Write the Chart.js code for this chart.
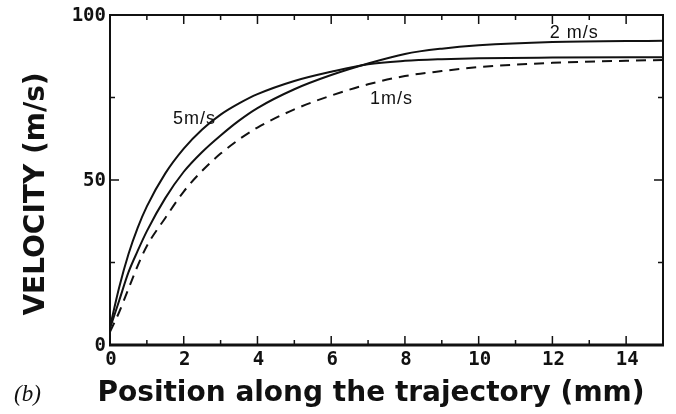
<!DOCTYPE html>
<html>
<head>
<meta charset="utf-8">
<script src="https://cdn.jsdelivr.net/npm/chart.js@4.4.0/dist/chart.umd.min.js"></script>
<style>
  html, body { margin: 0; padding: 0; background: #fff; }
</style>
</head>
<body>
<canvas id="velocityChart" width="676" height="414"></canvas>
<script>
// position along the trajectory (mm)
const positions = [0, 0.25, 0.5, 0.75, 1, 1.5, 2, 2.5, 3, 3.5, 4, 5, 6, 7, 8, 9, 10, 12, 15];
// velocity (m/s) for each launch speed
const vel5 = [5.5, 17.5, 27.5, 35.5, 42, 52, 59.5, 65.3, 69.8, 73.2, 76, 80, 82.8, 85.1, 86.1, 86.6, 86.9, 87.1, 87.2];
const vel2 = [5, 13.5, 22, 28.5, 34.5, 44.5, 52.5, 58.5, 63.5, 68, 71.8, 77.5, 81.8, 85.3, 88.2, 89.8, 90.8, 91.8, 92.2];
const vel1 = [4, 10, 17, 24, 30, 38.5, 46.5, 52.8, 58, 62.3, 65.9, 71.4, 75.6, 79, 81.5, 83, 84.2, 85.5, 86.4];

const xTickValues = [0, 2, 4, 6, 8, 10, 12, 14];
const yTickValues = [0, 50, 100];
const xMinorStep = 1;
const yMinorStep = 25;

function toPoints(ys) {
    return positions.map((x, i) => ({ x: x, y: ys[i] }));
}

// frame, inward ticks, tick labels, titles and curve labels
const framePlugin = {
    id: 'framePlugin',
    afterDatasetsDraw(chart) {
        const { ctx, chartArea: a, scales: { x, y } } = chart;
        ctx.save();
        ctx.strokeStyle = '#111';
        ctx.lineCap = 'butt';

        // frame
        ctx.lineWidth = 3;
        ctx.beginPath();
        ctx.moveTo(a.left - 1, a.bottom);
        ctx.lineTo(a.right + 1, a.bottom);
        ctx.stroke();
        ctx.lineWidth = 2;
        ctx.beginPath();
        ctx.moveTo(a.left, a.bottom);
        ctx.lineTo(a.left, a.top);
        ctx.lineTo(a.right, a.top);
        ctx.lineTo(a.right, a.bottom);
        ctx.stroke();

        // x ticks, bottom and top
        ctx.lineWidth = 1.5;
        ctx.beginPath();
        for (let v = x.min; v <= x.max; v += xMinorStep) {
            const px = x.getPixelForValue(v);
            const len = xTickValues.includes(v) ? 9 : 5;
            ctx.moveTo(px, a.bottom);
            ctx.lineTo(px, a.bottom - len);
            ctx.moveTo(px, a.top);
            ctx.lineTo(px, a.top + len);
        }
        // y ticks, left and right
        for (let v = y.min; v <= y.max; v += yMinorStep) {
            const py = y.getPixelForValue(v);
            const len = yTickValues.includes(v) ? 9 : 5;
            ctx.moveTo(a.left, py);
            ctx.lineTo(a.left + len, py);
            ctx.moveTo(a.right, py);
            ctx.lineTo(a.right - len, py);
        }
        ctx.stroke();

        // tick labels
        ctx.fillStyle = '#111';
        ctx.font = 'bold 19px "DejaVu Sans Mono"';
        ctx.textAlign = 'center';
        ctx.textBaseline = 'middle';
        xTickValues.forEach(v => {
            ctx.fillText(String(v), x.getPixelForValue(v) + 1, a.bottom + 15);
        });
        ctx.textAlign = 'right';
        yTickValues.forEach(v => {
            ctx.fillText(String(v), a.left - 4, y.getPixelForValue(v) + 1);
        });

        // axis titles
        ctx.font = 'bold 28px "DejaVu Sans"';
        ctx.textAlign = 'center';
        ctx.textBaseline = 'alphabetic';
        ctx.fillText('Position along the trajectory (mm)', 371, 401);
        ctx.save();
        ctx.translate(37, 194);
        ctx.rotate(-Math.PI / 2);
        ctx.textBaseline = 'middle';
        ctx.fillText('VELOCITY (m/s)', 0, 0);
        ctx.restore();

        ctx.font = 'italic 23px "Liberation Serif"';
        ctx.textAlign = 'left';
        ctx.fillText('(b)', 14, 401);

        // curve labels
        ctx.font = '18px "Liberation Sans"';
        ctx.letterSpacing = '1px';
        ctx.textAlign = 'left';
        ctx.textBaseline = 'middle';
        ctx.fillText('5m/s', x.getPixelForValue(1.71), y.getPixelForValue(68.6));
        ctx.fillText('1m/s', x.getPixelForValue(7.05), y.getPixelForValue(74.4));
        ctx.fillText('2 m/s', x.getPixelForValue(11.93), y.getPixelForValue(94.5));
        ctx.restore();
    }
};

const ctx = document.getElementById('velocityChart').getContext('2d');
const velocityChart = new Chart(ctx, {
    type: 'line',
    data: {
        datasets: [
            { label: '5 m/s', data: toPoints(vel5), borderColor: '#111', borderWidth: 2 },
            { label: '2 m/s', data: toPoints(vel2), borderColor: '#111', borderWidth: 2 },
            { label: '1 m/s', data: toPoints(vel1), borderColor: '#111', borderWidth: 2, borderDash: [10, 7] }
        ]
    },
    options: {
        responsive: false,
        animation: false,
        devicePixelRatio: 1,
        layout: { padding: { left: 110, right: 13, top: 15, bottom: 69 } },
        elements: {
            point: { radius: 0 },
            line: { cubicInterpolationMode: 'monotone', fill: false }
        },
        scales: {
            x: { type: 'linear', min: 0, max: 15, display: false },
            y: { type: 'linear', min: 0, max: 100, display: false }
        },
        plugins: {
            legend: { display: false },
            tooltip: { enabled: false }
        }
    },
    plugins: [framePlugin]
});
</script>
</body>
</html>
